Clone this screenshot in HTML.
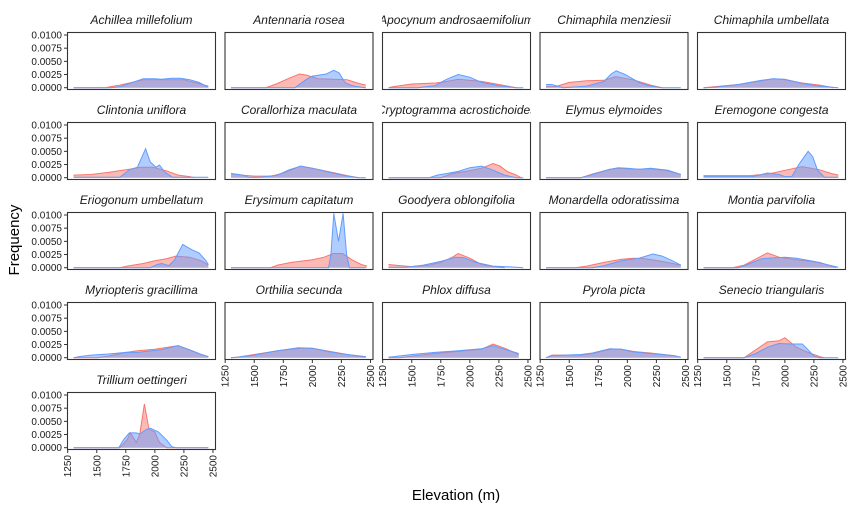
<!DOCTYPE html>
<html><head><meta charset="utf-8">
<style>
html,body{margin:0;padding:0;background:#fff;}
svg{display:block;font-family:"Liberation Sans",sans-serif;}
</style></head>
<body>
<svg id="chart" width="854" height="510" viewBox="0 0 854 510" xmlns="http://www.w3.org/2000/svg">
<text x="19" y="240" font-size="15" fill="#000" text-anchor="middle" transform="rotate(-90 19 240)">Frequency</text>
<text x="456" y="500" font-size="15" fill="#000" text-anchor="middle">Elevation (m)</text>
</svg>
<script>
// densities in units of 0.001
const speciesNames = ["Achillea millefolium","Antennaria rosea","Apocynum androsaemifolium","Chimaphila menziesii","Chimaphila umbellata",
"Clintonia uniflora","Corallorhiza maculata","Cryptogramma acrostichoides","Elymus elymoides","Eremogone congesta",
"Eriogonum umbellatum","Erysimum capitatum","Goodyera oblongifolia","Monardella odoratissima","Montia parvifolia",
"Myriopteris gracillima","Orthilia secunda","Phlox diffusa","Pyrola picta","Senecio triangularis","Trillium oettingeri"];
const yTickValues = [0, 2.5, 5, 7.5, 10];
const yTickLabels = ["0.0000","0.0025","0.0050","0.0075","0.0100"];
const xTickValues = [1250,1500,1750,2000,2250,2500];
const redSeries = [
[[1300,0],[1580,0],[1620,0.2],[1700,0.5],[1780,0.9],[1860,1.3],[1900,1.5],[2250,1.5],[2300,1.2],[2380,0.8],[2460,0.3]],
[[1300,0],[1600,0],[1700,0.8],[1800,1.8],[1890,2.6],[1950,2.4],[2050,1.7],[2300,1.5],[2400,0.8],[2460,0.5]],
[[1300,0],[1340,0.2],[1500,0.7],[1700,0.9],[1780,1.1],[1900,1.6],[2100,1.2],[2250,0.6],[2350,0.2],[2400,0]],
[[1300,0.2],[1380,0.2],[1500,1.0],[1650,1.3],[1800,1.4],[1900,2.1],[2050,1.5],[2200,0.5],[2300,0]],
[[1300,0],[1400,0.2],[1600,0.6],[1800,1.3],[1900,1.7],[2000,1.5],[2150,0.9],[2300,0.5],[2400,0.1],[2420,0]],
[[1300,0.5],[1450,0.6],[1600,1.0],[1750,1.5],[1880,2.0],[1980,2.0],[2100,1.3],[2200,0.5],[2300,0.2],[2340,0]],
[[1300,0.8],[1400,0.5],[1500,0.3],[1650,0.3],[1750,0.9],[1830,1.6],[1900,2.2],[2000,1.8],[2150,1.1],[2300,0.4],[2400,0]],
[[1300,0],[1750,0],[1850,0.8],[2000,1.3],[2100,1.8],[2200,2.7],[2260,2.2],[2320,1.2],[2400,0.5],[2440,0]],
[[1300,0],[1600,0],[1700,0.7],[1850,1.6],[1920,1.8],[2000,1.7],[2100,1.6],[2200,1.7],[2350,1.3],[2460,0.6]],
[[1300,0.4],[1700,0.4],[1800,0.6],[1900,0.9],[2000,1.4],[2150,2.1],[2300,1.5],[2400,0.8],[2460,0.5]],
[[1300,0],[1700,0],[1760,0.3],[1900,0.8],[2000,1.3],[2100,1.7],[2180,2.2],[2300,2.0],[2400,1.3],[2460,0.5]],
[[1300,0],[1640,0],[1700,0.5],[1820,1.0],[2000,1.5],[2100,2.0],[2180,2.7],[2260,2.7],[2340,1.5],[2420,0.6],[2470,0.3]],
[[1300,0.6],[1400,0.4],[1500,0.2],[1650,0.5],[1750,1.0],[1850,2.0],[1900,2.7],[2000,1.8],[2100,0.6],[2200,0.2],[2300,0]],
[[1300,0],[1550,0],[1650,0.3],[1800,1.0],[1950,1.6],[2050,1.8],[2150,1.7],[2300,1.2],[2460,0.5]],
[[1300,0],[1550,0],[1650,0.5],[1780,2.0],[1850,2.8],[1950,2.0],[2100,1.5],[2300,1.0],[2400,0.3],[2440,0]],
[[1300,0],[1500,0],[1600,0.3],[1750,1.0],[1850,1.3],[2000,1.6],[2200,2.3],[2300,1.5],[2400,0.6],[2460,0.2]],
[[1300,0],[1350,0.1],[1500,0.6],[1700,1.3],[1900,1.8],[2000,1.8],[2150,1.2],[2300,0.6],[2460,0.1]],
[[1300,0],[1400,0],[1500,0.3],[1700,0.8],[1900,1.2],[2100,1.6],[2200,2.6],[2300,1.8],[2420,0.6]],
[[1300,0],[1350,0.5],[1600,0.5],[1700,0.8],[1850,1.6],[1950,1.6],[2050,1.2],[2200,0.9],[2400,0.4],[2460,0.1]],
[[1300,0],[1650,0],[1750,1.5],[1850,3.0],[1950,3.2],[2000,3.8],[2100,2.0],[2200,1.0],[2300,0.2],[2340,0]],
[[1300,0],[1700,0],[1760,1.5],[1790,2.8],[1840,1.0],[1870,2.5],[1910,8.3],[1950,3.5],[2000,3.0],[2040,1.0],[2100,0],[2460,0]]
];
const blueSeries = [
[[1300,0],[1620,0],[1700,0.2],[1780,0.8],[1860,1.4],[1900,1.7],[2000,1.7],[2060,1.6],[2140,1.8],[2220,1.8],[2300,1.5],[2380,1.0],[2440,0.3],[2460,0.2]],
[[1300,0],[1850,0],[1950,1.6],[2000,2.2],[2120,2.6],[2185,3.3],[2230,2.8],[2280,1.0],[2340,0.4],[2420,0.1],[2460,0]],
[[1300,0],[1550,0],[1700,0.4],[1800,1.6],[1900,2.5],[2000,2.0],[2100,1.0],[2250,0.4],[2400,0],[2460,0]],
[[1300,0.6],[1350,0.6],[1450,0],[1650,0.3],[1800,1.2],[1860,2.6],[1905,3.2],[1980,2.5],[2100,1.0],[2200,0.3],[2300,0],[2460,0]],
[[1300,0],[1400,0.1],[1600,0.6],[1800,1.4],[1900,1.7],[2000,1.6],[2150,0.8],[2300,0.3],[2460,0]],
[[1300,0.1],[1700,0.1],[1780,1.5],[1850,2.0],[1890,4.0],[1920,5.5],[1960,3.0],[2010,2.0],[2040,2.4],[2080,1.2],[2150,0.1],[2460,0.1]],
[[1300,0.8],[1400,0.5],[1450,0.1],[1550,0.1],[1700,0.5],[1800,1.5],[1900,2.2],[2000,1.8],[2150,1.0],[2300,0.3],[2400,0],[2460,0]],
[[1300,0],[1650,0],[1720,0.5],[1800,0.8],[1900,1.2],[2000,1.9],[2100,2.2],[2180,1.6],[2300,0.5],[2400,0],[2460,0]],
[[1300,0],[1600,0],[1700,0.6],[1850,1.6],[1920,1.9],[2000,1.8],[2100,1.6],[2200,1.8],[2350,1.4],[2460,0.6]],
[[1300,0.2],[1720,0.2],[1800,0.6],[1850,0.9],[1950,0.6],[2000,0.2],[2060,0.2],[2120,2.5],[2200,5.0],[2240,4.0],[2280,1.5],[2340,0.1],[2460,0.1]],
[[1300,0],[1960,0],[2020,0.6],[2060,0.8],[2120,0.4],[2170,1.5],[2240,4.4],[2320,3.4],[2380,2.8],[2440,1.3],[2460,0.6]],
[[1300,0],[2140,0],[2160,2.5],[2185,10.3],[2225,5.0],[2265,10.3],[2295,2.5],[2320,0],[2460,0]],
[[1300,0.1],[1450,0.1],[1600,0.5],[1750,1.2],[1880,2.0],[1950,1.9],[2050,1.0],[2200,0.3],[2400,0.1],[2460,0]],
[[1300,0],[1700,0],[1800,0.4],[1950,1.3],[2100,1.8],[2220,2.6],[2300,2.2],[2400,1.2],[2460,0.5]],
[[1300,0],[1600,0],[1700,0.8],[1800,1.7],[2000,2.0],[2100,1.8],[2250,1.2],[2380,0.5],[2460,0.1]],
[[1300,0],[1350,0.2],[1450,0.5],[1600,0.7],[1750,1.0],[1850,1.0],[2050,1.5],[2200,2.3],[2300,1.5],[2400,0.6],[2460,0.2]],
[[1300,0],[1350,0.1],[1500,0.5],[1700,1.3],[1880,1.9],[2000,1.8],[2150,1.1],[2300,0.6],[2460,0.2]],
[[1300,0.1],[1500,0.6],[1700,1.0],[1900,1.3],[2100,1.7],[2200,2.3],[2300,1.6],[2420,0.8]],
[[1300,0],[1350,0.4],[1600,0.6],[1700,0.9],[1850,1.7],[1950,1.6],[2050,1.1],[2200,0.8],[2400,0.4],[2460,0.1]],
[[1300,0],[1650,0],[1750,0.8],[1850,2.0],[1950,2.7],[2050,2.6],[2150,2.6],[2200,1.5],[2250,0.3],[2300,0],[2460,0]],
[[1300,0],[1690,0],[1730,1.5],[1780,2.8],[1840,2.8],[1870,2.6],[1930,3.5],[1960,3.7],[2030,3.0],[2100,1.5],[2145,0.2],[2180,0],[2460,0]]
];
const NS='http://www.w3.org/2000/svg';
const svg=document.getElementById('chart');
const colLeft=[67,224.5,382,539.5,697], panelW=149, panelH=58;
function rowTop(r){return 32+90*r;}
function xScale(e,c){return colLeft[c]+0.7+(e-1250)*0.1162;}
function yScale(v,r){return rowTop(r)+55.7-v*5.27;}
function mk(tag,attrs,parent){const el=document.createElementNS(NS,tag);for(const k in attrs)el.setAttribute(k,attrs[k]);(parent||svg).appendChild(el);return el;}
function slug(s){return s.toLowerCase().replace(/[^a-z]+/g,'-');}
speciesNames.forEach((name,i)=>{
  const r=Math.floor(i/5), c=i%5, top=rowTop(r), left=colLeft[c];
  const g=mk('g',{});
  
  
  const clipId='clip'+i;
  const cp=mk('clipPath',{id:clipId},g);
  mk('rect',{x:left,y:top,width:panelW,height:panelH},cp);
  [[redSeries[i],'rgba(248,118,109,0.5)','#F8766D','red'],[blueSeries[i],'rgba(97,156,255,0.5)','#619CFF','blue']].forEach(([pts,fill,stroke,nm])=>{
    const line=pts.map(p=>xScale(p[0],c).toFixed(1)+','+yScale(p[1],r).toFixed(1)).join(' ');
    const base=yScale(0,r).toFixed(1);
    const area=xScale(pts[0][0],c).toFixed(1)+','+base+' '+line+' '+xScale(pts[pts.length-1][0],c).toFixed(1)+','+base;
    const a=mk('polygon',{points:area,fill:fill,stroke:'none','clip-path':'url(#'+clipId+')'},g);
    
    
    const l=mk('polyline',{points:line,fill:'none',stroke:stroke,'stroke-width':1,'clip-path':'url(#'+clipId+')'},g);
    
    
  });
  const b=mk('rect',{x:left+0.5,y:top+0.5,width:panelW-1,height:panelH-1,fill:'none',stroke:'#333','stroke-width':1.1},g);
  
  
  // strip title
  const fo=mk('foreignObject',{x:left,y:top-22,width:panelW,height:20},g);
  const d=document.createElement('div');
  d.style.cssText='width:'+panelW+'px;height:20px;display:flex;justify-content:center;align-items:center;overflow:hidden;white-space:nowrap;font:italic 12px "Liberation Sans",sans-serif;color:#1a1a1a;';
  d.textContent=name;
  
  
  fo.appendChild(d);
  // y axis on first column
  if(c===0){
    yTickValues.forEach((v,k)=>{
      const y=yScale(v,r);
      mk('line',{x1:left-3,x2:left,y1:y,y2:y,stroke:'#333','stroke-width':1},g);
      const t=mk('text',{x:left-5,y:y+3.5,'font-size':10,fill:'#1a1a1a','text-anchor':'end'},g);
      t.textContent=yTickLabels[k];
      
      
    });
  }
  // x axis on bottom panel of each column
  if(r===4 || (r===3 && c>0)){
    const yb=top+panelH;
    xTickValues.forEach(v=>{
      const x=xScale(v,c);
      mk('line',{x1:x,x2:x,y1:yb,y2:yb+3,stroke:'#333','stroke-width':1},g);
      const t=mk('text',{x:x+3.5,y:yb+5,'font-size':10,fill:'#1a1a1a','text-anchor':'end',transform:'rotate(-90 '+(x+3.5)+' '+(yb+5)+')'},g);
      t.textContent=v;
      
      
    });
  }
});
</script>
</body></html>
